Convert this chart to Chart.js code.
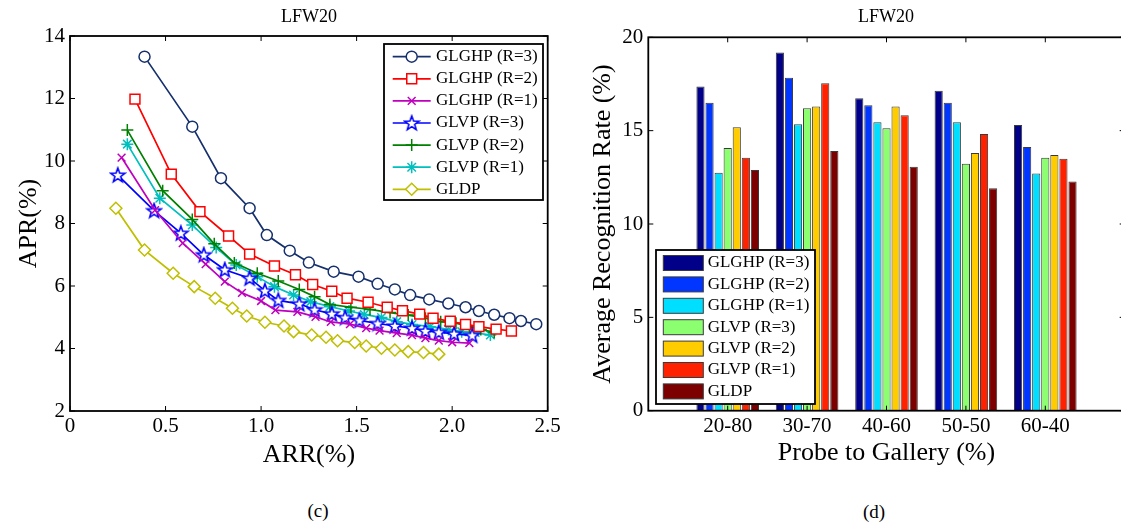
<!DOCTYPE html>
<html>
<head>
<meta charset="utf-8">
<script src="https://cdn.jsdelivr.net/npm/chart.js@4.4.1/dist/chart.umd.min.js"></script>
<style>
  html, body { margin: 0; padding: 0; background: #fff; width: 1121px; height: 529px; overflow: hidden; }
  body { position: relative; font-family: "Liberation Serif", "Times New Roman", serif; }
  canvas { position: absolute; top: 0; }
  #roc { left: 0; }
  #bars { left: 580px; }
  .txt { position: absolute; color: #000; white-space: nowrap; transform: translate(-50%, -50%); }
  .ttl { font-size: 18px; }
  .cap { font-size: 19px; }
</style>
</head>
<body>
<canvas id="roc" width="570" height="480"></canvas>
<canvas id="bars" width="560" height="480"></canvas>
<div class="txt ttl" style="left:309px; top:16px;">LFW20</div>
<div class="txt ttl" style="left:886px; top:16px;">LFW20</div>
<div class="txt cap" style="left:318px; top:511px;">(c)</div>
<div class="txt cap" style="left:874px; top:512px;">(d)</div>
<script>
// ---- (c) APR vs ARR ----
var glghp3X = [0.39, 0.64, 0.79, 0.94, 1.03, 1.15, 1.25, 1.38, 1.51, 1.61, 1.70, 1.78, 1.88, 1.98, 2.07, 2.14, 2.22, 2.30, 2.36, 2.44];
var glghp3Y = [13.34, 11.10, 9.45, 8.49, 7.63, 7.13, 6.75, 6.46, 6.30, 6.07, 5.89, 5.71, 5.57, 5.44, 5.32, 5.20, 5.08, 4.97, 4.88, 4.78];
var glghp2X = [0.34, 0.53, 0.68, 0.83, 0.94, 1.07, 1.18, 1.27, 1.37, 1.45, 1.56, 1.66, 1.74, 1.83, 1.90, 1.99, 2.07, 2.14, 2.23, 2.31];
var glghp2Y = [11.98, 9.58, 8.38, 7.60, 7.02, 6.64, 6.36, 6.05, 5.83, 5.61, 5.48, 5.32, 5.21, 5.10, 4.97, 4.87, 4.77, 4.70, 4.62, 4.56];
var glghp1X = [0.27, 0.445, 0.59, 0.71, 0.81, 0.90, 1.00, 1.075, 1.19, 1.285, 1.365, 1.465, 1.55, 1.62, 1.71, 1.79, 1.86, 1.93, 2.00, 2.09];
var glghp1Y = [10.11, 8.43, 7.37, 6.70, 6.14, 5.78, 5.52, 5.23, 5.17, 5.01, 4.85, 4.78, 4.65, 4.57, 4.49, 4.43, 4.33, 4.25, 4.20, 4.17];
var glvp3X = [0.25, 0.44, 0.58, 0.70, 0.81, 0.94, 1.02, 1.09, 1.20, 1.28, 1.37, 1.44, 1.515, 1.61, 1.70, 1.79, 1.86, 1.93, 2.01, 2.105];
var glvp3Y = [9.55, 8.41, 7.69, 7.00, 6.52, 6.25, 5.85, 5.54, 5.43, 5.24, 5.11, 4.99, 4.90, 4.80, 4.72, 4.65, 4.56, 4.52, 4.47, 4.42];
var glvp2X = [0.30, 0.485, 0.64, 0.755, 0.86, 0.98, 1.09, 1.20, 1.28, 1.36, 1.47, 1.57, 1.675, 1.77, 1.86, 1.94, 2.02, 2.09, 2.15, 2.22];
var glvp2Y = [10.99, 9.05, 8.13, 7.35, 6.74, 6.41, 6.16, 5.89, 5.66, 5.41, 5.32, 5.25, 5.15, 5.07, 4.97, 4.86, 4.81, 4.70, 4.61, 4.52];
var glvp1X = [0.30, 0.47, 0.64, 0.765, 0.87, 0.98, 1.07, 1.17, 1.26, 1.36, 1.46, 1.54, 1.63, 1.71, 1.79, 1.885, 1.98, 2.05, 2.12, 2.20];
var glvp1Y = [10.54, 8.81, 7.95, 7.23, 6.67, 6.30, 5.98, 5.71, 5.50, 5.34, 5.20, 5.09, 4.99, 4.86, 4.77, 4.70, 4.61, 4.54, 4.51, 4.43];
var gldpX = [0.24, 0.39, 0.54, 0.65, 0.76, 0.85, 0.925, 1.02, 1.12, 1.17, 1.265, 1.34, 1.40, 1.49, 1.55, 1.63, 1.70, 1.77, 1.85, 1.93];
var gldpY = [8.49, 7.15, 6.41, 5.98, 5.61, 5.29, 5.04, 4.84, 4.72, 4.54, 4.43, 4.36, 4.25, 4.19, 4.08, 4.01, 3.95, 3.90, 3.87, 3.82];

// ---- (d) average recognition rate per split ----
var splits = ['20-80', '30-70', '40-60', '50-50', '60-40'];
var rateGlghp3 = [17.36, 19.18, 16.73, 17.14, 15.30];
var rateGlghp2 = [16.50, 17.84, 16.36, 16.50, 14.13];
var rateGlghp1 = [12.75, 15.34, 15.45, 15.45, 12.70];
var rateGlvp3 = [14.07, 16.20, 15.13, 13.23, 13.55];
var rateGlvp2 = [15.18, 16.29, 16.29, 13.80, 13.70];
var rateGlvp1 = [13.55, 17.54, 15.82, 14.82, 13.50];
var rateGldp = [12.89, 13.91, 13.07, 11.91, 12.27];

var serif = '"Liberation Serif", "Times New Roman", serif';
Chart.defaults.font.family = serif;
Chart.defaults.color = '#000';

function pts(xs, ys) {
    return xs.map(function(x, i) { return {x: x, y: ys[i]}; });
}

// matlab style pentagram marker
function pentagram(color) {
    var c = document.createElement('canvas');
    c.width = 18; c.height = 18;
    var g = c.getContext('2d');
    g.beginPath();
    for (var i = 0; i < 10; i++) {
        var r = (i % 2 == 0) ? 7.5 : 3.1;
        var a = -Math.PI / 2 + i * Math.PI / 5;
        var px = 9 + r * Math.cos(a), py = 9.5 + r * Math.sin(a);
        if (i == 0) g.moveTo(px, py); else g.lineTo(px, py);
    }
    g.closePath();
    g.fillStyle = '#fff';
    g.fill();
    g.lineWidth = 1.6;
    g.strokeStyle = color;
    g.stroke();
    return c;
}

// box round the plot with inward ticks on all sides
var matlabAxes = {
    id: 'matlabAxes',
    afterDatasetsDraw: function(chart, args, o) {
        var ctx = chart.ctx, a = chart.chartArea, sx = chart.scales.x, sy = chart.scales.y;
        ctx.save();
        ctx.strokeStyle = '#000';
        ctx.lineWidth = 1;
        ctx.beginPath();
        sx.ticks.forEach(function(t) {
            if (o.xFilter && !o.xFilter(t.value)) return;
            var px = sx.getPixelForValue(t.value);
            ctx.moveTo(px, a.bottom); ctx.lineTo(px, a.bottom - 5);
            ctx.moveTo(px, a.top); ctx.lineTo(px, a.top + 5);
        });
        sy.ticks.forEach(function(t) {
            var py = sy.getPixelForValue(t.value);
            ctx.moveTo(a.left, py); ctx.lineTo(a.left + 5, py);
            ctx.moveTo(a.right, py); ctx.lineTo(a.right - 5, py);
        });
        ctx.stroke();
        ctx.lineWidth = 1.8;
        ctx.strokeRect(a.left, a.top, a.right - a.left, a.bottom - a.top);
        ctx.restore();
    }
};

// framed legend like matlab's
var boxLegend = {
    id: 'boxLegend',
    afterDraw: function(chart, args, o) {
        var ctx = chart.ctx;
        ctx.save();
        ctx.fillStyle = '#fff';
        ctx.fillRect(o.x, o.y, o.w, o.h);
        ctx.lineWidth = 1.8;
        ctx.strokeStyle = '#000';
        ctx.strokeRect(o.x, o.y, o.w, o.h);
        ctx.font = '17px ' + serif;
        ctx.textBaseline = 'middle';
        ctx.textAlign = 'left';
        chart.data.datasets.forEach(function(ds, i) {
            var cy = o.y + o.first + i * o.rowH;
            if (o.kind == 'bar') {
                ctx.fillStyle = ds.backgroundColor;
                ctx.fillRect(o.sx, cy - 7.5, o.sw, 15);
                ctx.lineWidth = 1;
                ctx.strokeStyle = ds.borderColor;
                ctx.strokeRect(o.sx, cy - 7.5, o.sw, 15);
            } else {
                ctx.strokeStyle = ds.borderColor;
                ctx.lineWidth = ds.borderWidth;
                ctx.beginPath();
                ctx.moveTo(o.sx, cy); ctx.lineTo(o.sx + o.sw, cy);
                ctx.stroke();
                ctx.fillStyle = '#fff';
                ctx.lineWidth = ds.pointBorderWidth;
                Chart.helpers.drawPoint(ctx, {pointStyle: ds.pointStyle, radius: ds.pointRadius,
                    borderWidth: ds.pointBorderWidth, rotation: 0}, o.sx + o.sw / 2, cy);
            }
            ctx.fillStyle = '#000';
            ctx.fillText(ds.label, o.tx, cy);
        });
        ctx.restore();
    }
};

function lineSet(label, xs, ys, color, style, radius) {
    return {
        label: label, data: pts(xs, ys), borderColor: color, borderWidth: 1.7,
        pointStyle: style, pointRadius: radius, pointBorderWidth: 1.5,
        pointBorderColor: color, pointBackgroundColor: '#fff', fill: false, tension: 0
    };
}

var tickFont = {size: 21, family: serif};
var axisFont = {size: 26, family: serif};

new Chart(document.getElementById('roc'), {
    type: 'line',
    data: {
        datasets: [
            lineSet('GLGHP (R=3)', glghp3X, glghp3Y, '#16306e', 'circle', 5.5),
            lineSet('GLGHP (R=2)', glghp2X, glghp2Y, '#ff0000', 'rect', 7),
            lineSet('GLGHP (R=1)', glghp1X, glghp1Y, '#bf00bf', 'crossRot', 5.5),
            lineSet('GLVP (R=3)', glvp3X, glvp3Y, '#0000ff', pentagram('#0000ff'), 7),
            lineSet('GLVP (R=2)', glvp2X, glvp2Y, '#008000', 'cross', 6),
            lineSet('GLVP (R=1)', glvp1X, glvp1Y, '#00bfbf', 'star', 6),
            lineSet('GLDP', gldpX, gldpY, '#bfbf00', 'rectRot', 6)
        ]
    },
    options: {
        responsive: false,
        animation: false,
        devicePixelRatio: 1,
        layout: {padding: {top: 36, right: 22.3, left: 0, bottom: 0}},
        plugins: {
            legend: {display: false},
            tooltip: {enabled: false},
            matlabAxes: {},
            boxLegend: {kind: 'line', x: 384, y: 44, w: 159, h: 156, first: 12.7, rowH: 22.1, sx: 392.7, sw: 38, tx: 436}
        },
        scales: {
            x: {
                type: 'linear', min: 0, max: 2.5,
                ticks: {stepSize: 0.5, font: tickFont, padding: 3, maxRotation: 0},
                grid: {display: false, drawTicks: false},
                border: {display: false},
                title: {display: true, text: 'ARR(%)', font: axisFont, padding: {top: 0, bottom: 9}},
                afterFit: function(s) { s.height = 69; }
            },
            y: {
                min: 2, max: 14,
                ticks: {stepSize: 2, font: tickFont, padding: 5},
                grid: {display: false, drawTicks: false},
                border: {display: false},
                title: {display: true, text: 'APR(%)', font: axisFont, padding: {top: 14, bottom: 0}},
                afterFit: function(s) { s.width = 70; }
            }
        }
    },
    plugins: [matlabAxes, boxLegend]
});

function barSet(label, values, color) {
    return {
        label: label,
        data: values.map(function(v, i) { return {x: i + 1, y: v}; }),
        backgroundColor: color, borderColor: '#3a3a3a', borderWidth: 1,
        categoryPercentage: 0.8, barPercentage: 0.9
    };
}

new Chart(document.getElementById('bars'), {
    type: 'bar',
    data: {
        datasets: [
            barSet('GLGHP (R=3)', rateGlghp3, '#000088'),
            barSet('GLGHP (R=2)', rateGlghp2, '#0036ff'),
            barSet('GLGHP (R=1)', rateGlghp1, '#00dfff'),
            barSet('GLVP (R=3)', rateGlvp3, '#8cff70'),
            barSet('GLVP (R=2)', rateGlvp2, '#ffcc00'),
            barSet('GLVP (R=1)', rateGlvp1, '#ff2200'),
            barSet('GLDP', rateGldp, '#7d0000')
        ]
    },
    options: {
        responsive: false,
        animation: false,
        devicePixelRatio: 1,
        layout: {padding: {top: 37.3, right: 15.3, left: 0, bottom: 0}},
        plugins: {
            legend: {display: false},
            tooltip: {enabled: false},
            matlabAxes: {xFilter: function(v) { return v >= 1 && v <= splits.length; }},
            boxLegend: {kind: 'bar', x: 76, y: 250, w: 159, h: 154, first: 13, rowH: 21.4, sx: 83.3, sw: 40, tx: 127.7}
        },
        scales: {
            x: {
                type: 'linear', min: 0, max: splits.length + 1, offset: false,
                ticks: {
                    stepSize: 1, font: tickFont, padding: 3, maxRotation: 0,
                    callback: function(v) { return splits[v - 1] || ''; }
                },
                grid: {display: false, drawTicks: false, offset: false},
                border: {display: false},
                title: {display: true, text: 'Probe to Gallery (%)', font: axisFont, padding: {top: 0, bottom: 11}},
                afterFit: function(s) { s.height = 69.3; }
            },
            y: {
                min: 0, max: 20,
                ticks: {stepSize: 5, font: tickFont, padding: 5},
                grid: {display: false, drawTicks: false},
                border: {display: false},
                title: {display: true, text: 'Average Recognition Rate (%)', font: axisFont, padding: {top: 8, bottom: 0}},
                afterFit: function(s) { s.width = 68.3; }
            }
        }
    },
    plugins: [matlabAxes, boxLegend]
});
</script>
</body>
</html>
